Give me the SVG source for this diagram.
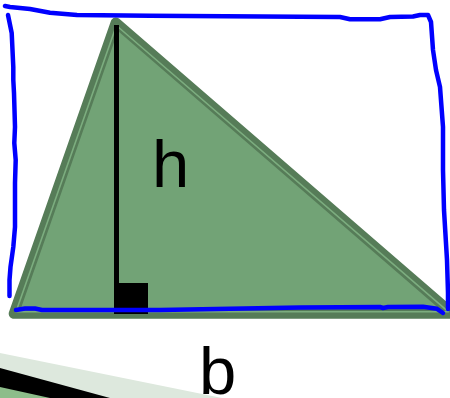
<svg xmlns="http://www.w3.org/2000/svg" width="450" height="398" viewBox="0 0 450 398">
<style>
.lbl{font-family:"Liberation Sans",Arial,sans-serif;font-size:67px;fill:#000}
.pen{fill:none;stroke:#0000ff;stroke-width:4.5;stroke-linecap:round;stroke-linejoin:round}
</style>
<rect width="450" height="398" fill="#ffffff"/>
<g id="partial-shape">
<polygon points="0,353 222,398 0,398" fill="#dde8dd"/>
<polygon points="0,368 110,398 0,398" fill="#000000"/>
<polygon points="0,387 50,398 0,398" fill="#8dbd8a"/>
</g>
<g id="triangle">
<polygon points="115.7,22.4 13.7,313.75 452.7,313.75" fill="#72a376" stroke="#567c58" stroke-width="10" stroke-linejoin="round"/>
<polygon points="116.4,25.5 16,311.8 448.5,311.8" fill="none" stroke="#7cad7f" stroke-width="1.6" stroke-linejoin="round"/>
</g>
<g id="height">
<rect x="114" y="25" width="5" height="262" fill="#000"/>
<rect x="114" y="283" width="34" height="31" fill="#000"/>
</g>
<g id="connectors">
<path class="pen" d="M5,6 L10,7 L30,9 L50,12.7 L77,15 L150,15.7 L300,16.7 L340,17 L350,19.2 L380,19.2 L390,17 L413,16.5 L420,15 L428,15 L431,22 L433,50 L436,70 L440,87 L443,127 L443,170 L444,210 L447,260 L448,293 L448,309"/>
<path class="pen" d="M8,15 L11.7,33 L13.3,67 L13.3,80 L14,93 L15,127 L14.3,143 L15.7,160 L15,183 L15,227 L13.3,247 L10.5,267 L9.5,280 L9.5,296"/>
<path class="pen" d="M16,310 L25,308.5 L35,308.5 L42,310 L160,310 L300,307.5 L380,307 L383,308 L388,307 L423,306.8 L437,308.8 L443,313"/>
</g>
<g id="labels">
<text class="lbl" x="152" y="187">h</text>
<text class="lbl" x="199" y="394">b</text>
</g>
</svg>
